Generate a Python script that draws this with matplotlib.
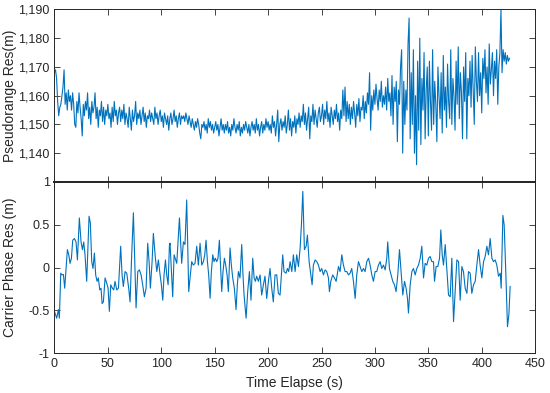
import numpy as np
import matplotlib
matplotlib.use("Agg")
import matplotlib.pyplot as plt
from matplotlib.ticker import FuncFormatter

plt.rcParams['font.family'] = ['Liberation Sans', 'DejaVu Sans']
plt.rcParams['axes.unicode_minus'] = False

# pseudorange residual, one sample per second (t = 0 .. 426)
pr_res = [
    1168, 1169, 1166, 1158, 1153, 1156, 1157, 1160, 1163, 1169,
    1157, 1161, 1155, 1162, 1158, 1160, 1155, 1161, 1157, 1150,
    1149, 1158, 1154, 1161, 1156, 1152, 1146, 1157, 1153, 1158,
    1155, 1161, 1152, 1156, 1150, 1158, 1154, 1156, 1161, 1152,
    1156, 1149, 1155, 1153, 1158, 1151, 1156, 1150, 1155, 1153,
    1157, 1152, 1154, 1149, 1156, 1151, 1158, 1153, 1155, 1150,
    1154, 1156, 1151, 1155, 1152, 1157, 1150, 1154, 1152, 1149,
    1156, 1152, 1148, 1155, 1151, 1153, 1158, 1150, 1154, 1152,
    1155, 1150, 1153, 1156, 1151, 1154, 1149, 1153, 1152, 1155,
    1151, 1154, 1152, 1150, 1156, 1152, 1154, 1150, 1153, 1155,
    1151, 1153, 1149, 1154, 1152, 1150, 1153, 1148, 1152, 1154,
    1150, 1152, 1155, 1151, 1153, 1149, 1152, 1154, 1150, 1153,
    1152, 1153, 1151, 1154, 1152, 1150, 1153, 1151, 1149, 1152,
    1150, 1148, 1151, 1149, 1152, 1150, 1147, 1145, 1150, 1149,
    1151, 1148, 1150, 1147, 1152, 1149, 1151, 1148, 1150, 1147,
    1149, 1151, 1148, 1150, 1146, 1149, 1152, 1148, 1150, 1147,
    1150, 1148, 1151, 1147, 1149, 1146, 1150, 1148, 1152, 1149,
    1147, 1150, 1148, 1151, 1146, 1149, 1147, 1150, 1148, 1151,
    1149, 1147, 1150, 1146, 1149, 1151, 1148, 1150, 1147, 1152,
    1148, 1150, 1146, 1149, 1151, 1147, 1150, 1148, 1152, 1149,
    1151, 1148, 1150, 1147, 1153, 1149, 1151, 1146, 1150, 1155,
    1144, 1150, 1152, 1148, 1151, 1149, 1153, 1147, 1150, 1155,
    1148, 1152, 1146, 1151, 1149, 1153, 1147, 1152, 1150, 1154,
    1149, 1153, 1151, 1157, 1150, 1154, 1148, 1152, 1156, 1145,
    1153, 1151, 1157, 1150, 1155, 1152, 1149, 1154, 1156, 1151,
    1153, 1157, 1150, 1155, 1152, 1158, 1151, 1154, 1149, 1156,
    1153, 1150, 1155, 1152, 1157, 1151, 1154, 1148, 1155, 1152,
    1162, 1153, 1163, 1151, 1158, 1152, 1157, 1150, 1156, 1152,
    1158, 1154, 1149, 1157, 1153, 1159, 1151, 1156, 1155, 1160,
    1152, 1158, 1154, 1161, 1157, 1168, 1148, 1160, 1155, 1162,
    1157, 1164, 1159, 1155, 1162, 1158, 1165, 1156, 1160, 1157,
    1163, 1155, 1166, 1158, 1161, 1153, 1167, 1150, 1163, 1158,
    1165, 1144, 1162, 1157, 1170, 1176, 1140, 1165, 1150, 1162,
    1155, 1178, 1187, 1145, 1168, 1150, 1176, 1140, 1160, 1136,
    1172, 1148, 1180, 1143, 1166, 1155, 1175, 1145, 1162, 1170,
    1146, 1172, 1158, 1148, 1176, 1150, 1165, 1157, 1144, 1170,
    1160, 1152, 1168, 1147, 1174, 1155, 1163, 1149, 1171, 1158,
    1152, 1176, 1150, 1166, 1160, 1148, 1172, 1157, 1177, 1152,
    1168, 1161, 1145, 1170, 1158, 1175, 1145, 1166, 1160, 1172,
    1156, 1174, 1162, 1150, 1177, 1165, 1158, 1175, 1160, 1168,
    1154, 1173, 1166, 1176, 1161, 1170, 1157, 1178, 1164, 1169,
    1175, 1160, 1172, 1166, 1176, 1157, 1170, 1175, 1190, 1168,
    1176, 1172, 1175, 1171, 1174, 1172, 1173,
]
pr_t = np.arange(len(pr_res))

# carrier phase residual, read point by point
cp_t = [
    0.0, 2.1, 3.7, 4.6, 5.9, 7.1, 8.4, 9.6, 10.9, 12.1, 13.4, 14.6, 15.9, 17.1,
    18.7, 20.2, 21.5, 23.3, 24.9, 26.2, 27.4, 28.6, 30.2, 31.5, 32.4, 33.6,
    34.9, 36.1, 37.4, 38.6, 39.9, 41.1, 42.4, 43.6, 44.6, 45.8, 47.4, 48.9,
    50.2, 51.4, 52.7, 54.2, 55.5, 56.7, 58.3, 59.9, 62.0, 63.3, 64.5, 66.1,
    67.7, 69.5, 70.8, 72.3, 73.9, 75.2, 76.4, 78.0, 79.5, 81.1, 82.6, 84.2,
    85.8, 87.3, 88.6, 89.8, 91.4, 92.6, 94.2, 95.8, 97.3, 98.9, 100.1, 101.4,
    102.6, 103.9, 105.1, 106.4, 107.6, 108.2, 110.7, 112.0, 114.5, 117.0,
    119.1, 120.7, 122.2, 123.8, 125.7, 127.2, 128.5, 130.0, 131.6, 133.2,
    134.7, 136.3, 137.9, 139.4, 140.7, 141.9, 143.2, 144.4, 145.7, 146.9,
    148.2, 149.4, 150.6, 151.9, 153.1, 154.4, 155.6, 156.6, 157.8, 159.1,
    160.3, 161.6, 162.8, 164.4, 165.6, 166.9, 168.4, 170.0, 171.2, 172.2,
    173.7, 175.3, 176.5, 177.5, 179.4, 180.9, 182.5, 184.0, 185.6, 186.9,
    188.1, 189.3, 190.9, 192.5, 194.0, 195.6, 197.1, 198.7, 200.3, 201.8,
    203.4, 204.9, 206.5, 208.1, 209.6, 211.2, 213.7, 214.9, 216.8, 218.1,
    219.3, 220.6, 222.2, 223.7, 225.3, 226.8, 228.4, 230.0, 231.2, 232.5,
    234.0, 235.6, 236.8, 238.4, 240.0, 241.2, 242.4, 244.0, 245.6, 247.1,
    248.7, 250.2, 251.8, 253.4, 254.9, 256.5, 257.4, 258.7, 260.5, 262.1,
    263.7, 265.9, 267.4, 269.0, 270.5, 272.1, 273.7, 275.2, 276.8, 278.3,
    279.9, 281.5, 283.0, 284.6, 286.1, 287.7, 289.3, 290.8, 292.4, 294.0,
    295.5, 297.1, 298.6, 300.2, 301.7, 303.3, 304.9, 306.4, 308.0, 309.6,
    311.1, 312.0, 313.6, 315.2, 316.7, 318.3, 319.8, 321.4, 323.0, 324.5,
    326.1, 327.7, 329.2, 330.5, 331.4, 333.0, 334.6, 336.1, 337.7, 339.2,
    340.8, 342.4, 343.9, 345.5, 347.0, 348.6, 350.2, 351.7, 353.3, 354.8,
    355.8, 357.3, 358.9, 360.5, 361.7, 363.0, 364.2, 365.8, 367.3, 368.9,
    370.5, 372.0, 373.6, 375.1, 376.7, 378.3, 379.8, 381.4, 382.9, 384.5,
    386.1, 387.6, 389.2, 390.7, 392.3, 393.9, 395.4, 397.0, 398.5, 400.1,
    401.7, 403.2, 404.8, 406.3, 407.9, 409.5, 411.0, 412.6, 414.1, 415.7,
    417.3, 418.2, 419.8, 421.0, 422.6, 424.1, 425.4, 426.6,
]
cp_res = [
    -0.51, -0.59, -0.49, -0.59, -0.065, -0.085, -0.08, -0.24, -0.01, 0.21, 0.15, 0.05, 0.11, 0.32,
    0.34, 0.30, 0.09, 0.58, 0.30, 0.21, 0.30, 0.15, -0.16, 0.30, 0.60, 0.52,
    0.07, -0.01, 0.17, -0.085, -0.16, -0.12, -0.26, -0.24, -0.42, -0.40, -0.12, -0.18,
    -0.24, -0.51, -0.20, -0.24, -0.26, -0.16, -0.26, -0.24, 0.25, -0.085, -0.22, -0.046,
    -0.065, -0.24, -0.40, 0.15, 0.64, 0.07, -0.47, -0.046, -0.026, -0.085, -0.20, -0.34,
    -0.24, 0.285, 0.07, -0.24, 0.07, 0.40, 0.15, -0.046, 0.09, -0.085, -0.20, -0.38,
    -0.085, 0.09, -0.085, -0.20, 0.25, 0.285, -0.34, 0.15, 0.05, 0.58,
    0.05, 0.30, 0.27, 0.79, -0.28, -0.085, 0.07, 0.03, 0.05, 0.25,
    0.03, 0.285, 0.03, 0.07, 0.15, 0.32, 0.07, -0.085, -0.357, -0.046,
    0.15, 0.07, 0.11, 0.07, 0.11, 0.32, -0.01, -0.28, -0.046, 0.11,
    0.03, -0.085, -0.28, 0.23, 0.03, -0.12, -0.24, -0.49, -0.20, -0.046,
    -0.12, 0.27, -0.085, -0.32, -0.59, -0.28, -0.046, -0.38, 0.11, -0.12,
    -0.16, -0.10, -0.16, -0.085, -0.32, -0.20, -0.10, -0.36, -0.16, -0.01,
    -0.24, -0.40, -0.085, -0.085, -0.30, -0.32, 0.15, -0.046, -0.065, -0.01,
    -0.046, 0.07, -0.046, 0.15, -0.046, 0.15, 0.013, 0.23, 0.50, 0.89,
    0.21, 0.25, 0.38, 0.07, -0.085, -0.20, 0.03, 0.09, 0.07, 0.03,
    -0.046, -0.01, -0.085, -0.026, -0.046, -0.12, -0.28, -0.16, -0.085, -0.12,
    -0.16, 0.013, -0.046, 0.15, 0.03, -0.046, -0.046, -0.085, -0.065, -0.01,
    -0.16, -0.36, -0.085, 0.07, 0.013, -0.046, -0.01, -0.046, 0.07, 0.11,
    0.03, -0.085, -0.16, -0.046, -0.046, 0.03, 0.07, -0.01, 0.03, -0.026,
    0.11, 0.30, -0.01, -0.085, -0.16, -0.20, -0.28, -0.085, 0.21, -0.046,
    -0.32, -0.16, -0.24, -0.36, -0.53, -0.20, -0.046, -0.01, -0.085, -0.01,
    0.03, 0.11, 0.25, -0.12, 0.05, 0.03, 0.11, 0.13, 0.07, 0.07,
    -0.16, 0.013, 0.013, 0.11, 0.44, 0.15, 0.03, 0.27, -0.01, -0.32,
    -0.34, 0.11, -0.63, -0.28, 0.09, 0.07, -0.38, 0.013, -0.046, -0.24,
    -0.30, -0.046, -0.065, -0.30, -0.20, -0.16, 0.03, 0.21, 0.03, -0.12,
    0.07, 0.13, 0.25, 0.15, 0.34, 0.11, 0.07, 0.09, 0.03, -0.10,
    -0.065, -0.24, 0.61, 0.50, -0.085, -0.69, -0.55, -0.22,
]

line_color = '#0072BD'
edge_color = '#262626'

fig = plt.figure(figsize=(5.5, 3.93), dpi=100)
ax1 = fig.add_axes([0.099, 0.537, 0.874, 0.439])
ax2 = fig.add_axes([0.099, 0.101, 0.874, 0.436])

ax1.plot(pr_t, pr_res, color=line_color, lw=0.8)
ax2.plot(cp_t, cp_res, color=line_color, lw=0.8)

ax1.set_xlim(0, 450)
ax1.set_ylim(1130, 1190)
ax1.set_yticks([1140, 1150, 1160, 1170, 1180, 1190])
ax1.yaxis.set_major_formatter(FuncFormatter(lambda v, p: f"{v:,.0f}"))
ax1.set_xticks(np.arange(0, 451, 50))
ax1.tick_params(labelbottom=False)
ax1.set_ylabel('Pseudorange Res(m)', fontsize=10)

ax2.set_xlim(0, 450)
ax2.set_ylim(-1, 1)
ax2.set_yticks([-1, -0.5, 0, 0.5, 1])
ax2.set_yticklabels(['-1', '-0.5', '0', '0.5', '1'])
ax2.set_xticks(np.arange(0, 451, 50))
ax2.set_xlabel('Time Elapse (s)', fontsize=10)
ax2.set_ylabel('Carrier Phase Res (m)', fontsize=10)

for ax in (ax1, ax2):
    ax.tick_params(direction='in', top=True, right=True, length=4, width=0.6,
                   color=edge_color, labelsize=9, labelcolor=edge_color)
    for s in ax.spines.values():
        s.set_color(edge_color)
        s.set_linewidth(0.7)
    ax.yaxis.label.set_color(edge_color)
    ax.xaxis.label.set_color(edge_color)

# the shared edge looks heavier in the original
ax1.spines['bottom'].set_linewidth(1.4)
ax2.spines['top'].set_linewidth(1.4)

ax1.yaxis.set_label_coords(-0.078, 0.5)
ax2.yaxis.set_label_coords(-0.078, 0.5)

fig.savefig('out.png', dpi=100)
